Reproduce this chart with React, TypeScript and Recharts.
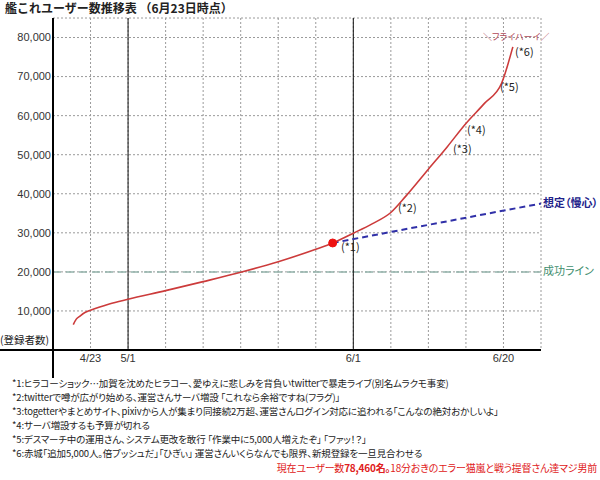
import React from "react";
import {
  CartesianGrid,
  Line,
  LineChart,
  ReferenceDot,
  ReferenceLine,
  XAxis,
  YAxis,
} from "recharts";

// x positions are in grid columns (the source chart is hand spaced, not a date scale)
const dayPos = [0.54, 0.62, 0.72, 0.85, 1, 1.5, 2, 3, 4, 5, 6, 7, 7.45, 8, 8.5, 9, 9.4, 10, 10.5, 11, 11.5, 11.95, 12.25];
const users = [6500, 7900, 8700, 9600, 10200, 11800, 13000, 15200, 17500, 19900, 22600, 25800, 27400, 29900, 32300, 35200, 39400, 46300, 52000, 58000, 63200, 68300, 77600];

const expectPos = [7.45, 13];
const expectUsers = [27400, 37500];

const xTicks = [0, 1, 2, 3, 4, 5, 6, 7, 8, 9, 10, 11, 12, 13];
const xLabels = ["", "4/23", "5/1", "", "", "", "", "", "6/1", "", "", "", "6/20", ""];
const yTicks = [10000, 20000, 30000, 40000, 50000, 60000, 70000, 80000];

const SUCCESS_LINE = 20000;
const BOOST_POS = 7.45;
const BOOST_USERS = 27400;

const notes = [
  "*1:ヒラコーショック…加賀を沈めたヒラコー、愛ゆえに悲しみを背負いtwitterで暴走ライブ(別名ムラクモ事変)",
  "*2:twitterで噂が広がり始める、運営さんサーバ増設 「これなら余裕ですね(フラグ)」",
  "*3:togetterやまとめサイト、pixivから人が集まり同接続2万超、運営さんログイン対応に追われる「こんなの絶対おかしいよ」",
  "*4:サーバ増設するも予算が切れる",
  "*5:デスマーチ中の運用さん、システム更改を敢行 「作業中に5,000人増えたぞ」 「ファッ！？」",
  "*6:赤城「追加5,000人。倍プッシュだ」「ひぎぃ」 運営さんいくらなんでも限界、新規登録を一旦見合わせる",
];

const marks = [
  { text: "(*1)", left: 341, top: 241 },
  { text: "(*2)", left: 398, top: 202 },
  { text: "(*3)", left: 453, top: 143 },
  { text: "(*4)", left: 467, top: 124 },
  { text: "(*5)", left: 500, top: 81 },
  { text: "(*6)", left: 515, top: 46 },
];

const mainData = dayPos.map((x, i) => ({ x, y: users[i] }));
const expectData = expectPos.map((x, i) => ({ x, y: expectUsers[i] }));

const JP = '"Noto Sans CJK JP", sans-serif';
const LAT = '"Liberation Sans", Arial, sans-serif';

const abs = (left: number, top: number): React.CSSProperties => ({
  position: "absolute",
  left,
  top,
  whiteSpace: "nowrap",
  lineHeight: 1,
});

export default function App() {
  return (
    <div
      style={{
        position: "absolute",
        left: 0,
        top: 0,
        width: 600,
        height: 480,
        background: "#fff",
        overflow: "hidden",
        fontFamily: JP,
        fontFeatureSettings: '"palt"',
      }}
    >
      <div
        style={{
          ...abs(5, 2),
          fontSize: 12,
          fontWeight: 700,
          color: "#222",
          fontFeatureSettings: "normal",
        }}
      >
        艦これユーザー数推移表 （6月23日時点）
      </div>

      <LineChart
        width={600}
        height={480}
        margin={{ top: 18, right: 59, bottom: 110, left: 0 }}
        style={{ position: "absolute", left: 0, top: 0 }}
      >
        <CartesianGrid stroke="#9a9a9a" strokeDasharray="2 2" />
        <XAxis
          type="number"
          dataKey="x"
          domain={[0, 13]}
          ticks={xTicks}
          tickFormatter={(v: number) => xLabels[v] ?? ""}
          axisLine={false}
          tickLine={false}
          tickSize={0}
          tickMargin={4}
          height={20}
          tick={{ fill: "#333", fontSize: 11, fontFamily: LAT }}
        />
        <YAxis
          type="number"
          domain={[0, 85000]}
          ticks={yTicks}
          tickFormatter={(v: number) => v.toLocaleString("en-US")}
          axisLine={false}
          tickLine={false}
          tickSize={0}
          tickMargin={2}
          width={53}
          tick={{ fill: "#333", fontSize: 11, fontFamily: LAT }}
        />
        <ReferenceLine
          y={SUCCESS_LINE}
          stroke="#93b3aa"
          strokeWidth={1.5}
          strokeDasharray="8 5"
        />
        <ReferenceLine x={2} stroke="#111" strokeWidth={1} />
        <ReferenceLine x={8} stroke="#111" strokeWidth={1} />
        <ReferenceLine
          segment={[{ x: -1.42, y: 0 }, { x: 13, y: 0 }]}
          ifOverflow="visible"
          stroke="#000"
          strokeWidth={2}
        />
        <ReferenceLine
          segment={[{ x: 0, y: 85000 }, { x: 0, y: -7200 }]}
          ifOverflow="visible"
          stroke="#000"
          strokeWidth={2}
        />
        <Line
          data={expectData}
          dataKey="y"
          type="linear"
          stroke="#3030a8"
          strokeWidth={2}
          strokeDasharray="6 4"
          dot={false}
          isAnimationActive={false}
        />
        <Line
          data={mainData}
          dataKey="y"
          type="monotone"
          stroke="#cc3b3b"
          strokeWidth={1.6}
          dot={false}
          isAnimationActive={false}
        />
        <ReferenceDot
          x={BOOST_POS}
          y={BOOST_USERS}
          r={4}
          fill="#ee1111"
          stroke="#ee1111"
        />
      </LineChart>

      <div style={{ ...abs(0, 335), fontSize: 10.5, color: "#222" }}>(登録者数)</div>

      {marks.map((m) => (
        <div key={m.text} style={{ ...abs(m.left, m.top), fontSize: 11, color: "#222" }}>
          {m.text}
        </div>
      ))}
      <div style={{ ...abs(483, 32), fontSize: 9, color: "#b04858" }}>＼フライハーイ／</div>
      <div style={{ ...abs(543, 197), fontSize: 11, fontWeight: 700, color: "#22228a" }}>
        想定（慢心）
      </div>
      <div style={{ ...abs(543, 265), fontSize: 11, color: "#3e8e6e" }}>成功ライン</div>

      {notes.map((n, i) => (
        <div
          key={i}
          style={{
            ...abs(12, 379 + i * 14),
            fontSize: 9.5,
            letterSpacing: -0.15,
            color: "#222",
          }}
        >
          {n}
        </div>
      ))}
      <div
        style={{
          ...abs(0, 463),
          width: 597,
          textAlign: "right",
          fontSize: 10,
          letterSpacing: -0.2,
          color: "#e02020",
        }}
      >
        <span>現在ユーザー数</span>
        <span style={{ fontWeight: 700 }}>78,460名。</span>
        <span>18分おきのエラー猫嵐と戦う提督さん達マジ男前</span>
      </div>
    </div>
  );
}
